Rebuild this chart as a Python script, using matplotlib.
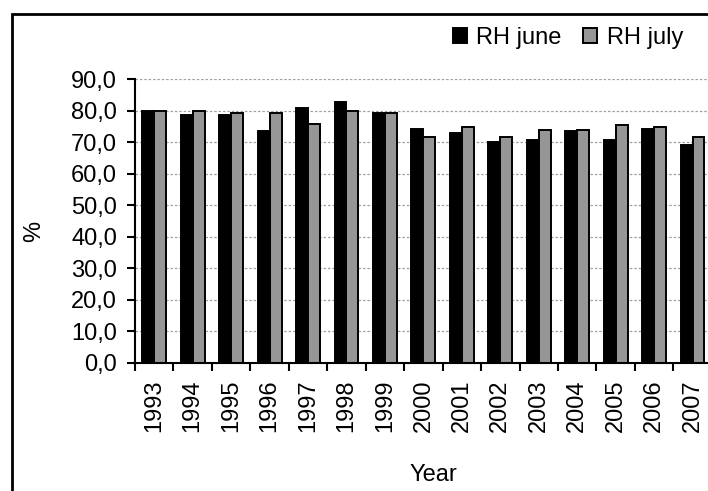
import matplotlib
matplotlib.use("Agg")
import matplotlib.pyplot as plt
import numpy as np
from matplotlib.patches import Rectangle
from matplotlib.ticker import FuncFormatter, FixedLocator

plt.rcParams['font.family'] = ['Liberation Sans', 'DejaVu Sans']

years = ['1993', '1994', '1995', '1996', '1997', '1998', '1999', '2000',
         '2001', '2002', '2003', '2004', '2005', '2006', '2007']
rh_june = [80.0, 78.6, 78.6, 73.6, 80.8, 82.9, 79.3, 74.2,
           72.8, 70.0, 70.6, 73.6, 70.6, 74.2, 69.1]
rh_july = [80.0, 80.0, 79.3, 79.3, 75.7, 80.0, 79.3, 71.8,
           74.7, 71.8, 74.0, 74.0, 75.4, 74.7, 71.8]

W, H = 708, 491
FS = 17
fig = plt.figure(figsize=(W / 100, H / 100), dpi=100)
ax = fig.add_axes([135 / W, (H - 362.5) / H, 576.8 / W, (362.5 - 79.3) / H])

x = np.arange(len(years))
bw = 0.31
ax.bar(x - bw / 2, rh_june, bw, color='black', edgecolor='black', linewidth=1.4,
       label='RH june', zorder=3)
ax.bar(x + bw / 2, rh_july, bw, color='#969696', edgecolor='black', linewidth=1.4,
       label='RH july', zorder=3)

ax.set_xlim(-0.5, len(years) - 0.5)
ax.set_ylim(0, 90)
ax.set_yticks(np.arange(0, 91, 10))
ax.yaxis.set_major_formatter(FuncFormatter(lambda v, p: ('%.1f' % v).replace('.', ',')))

# gridlines for every 10 except the baseline
for v in range(10, 91, 10):
    ax.axhline(v, color='#a0a0a0', linestyle=(0, (2, 1.5)), linewidth=0.9, zorder=1)

ax.set_xticks(x)
ax.set_xticklabels(years, rotation=90)
ax.tick_params(axis='x', which='major', length=0, pad=12, labelsize=FS)
ax.xaxis.set_minor_locator(FixedLocator(np.arange(-0.5, len(years), 1.0)))
ax.tick_params(axis='x', which='minor', length=6, width=1.5, direction='out')
ax.tick_params(axis='y', length=6, width=1.5, direction='out', labelsize=FS, pad=7)

for s in ['top', 'right']:
    ax.spines[s].set_visible(False)
for s in ['left', 'bottom']:
    ax.spines[s].set_linewidth(1.5)
    ax.spines[s].set_zorder(4)

fig.text(433 / W, 1 - 475 / H, 'Year', fontsize=FS, ha='center', va='center')
fig.text(34 / W, 1 - 231 / H, '%', fontsize=FS, ha='center', va='center', rotation=90)

ax.legend(loc='center', bbox_to_anchor=(568 / W, 1 - 38 / H), bbox_transform=fig.transFigure,
          ncol=2, frameon=False, fontsize=FS, handlelength=0.6, handleheight=0.6,
          handletextpad=0.4, columnspacing=0.9)

# chart area border
fig.add_artist(Rectangle((11.5 / W, -0.1), 2.0, 1.1 - 14 / H, transform=fig.transFigure,
                         fill=False, edgecolor='black', linewidth=2, clip_on=False))

fig.savefig('out.png', dpi=100)
